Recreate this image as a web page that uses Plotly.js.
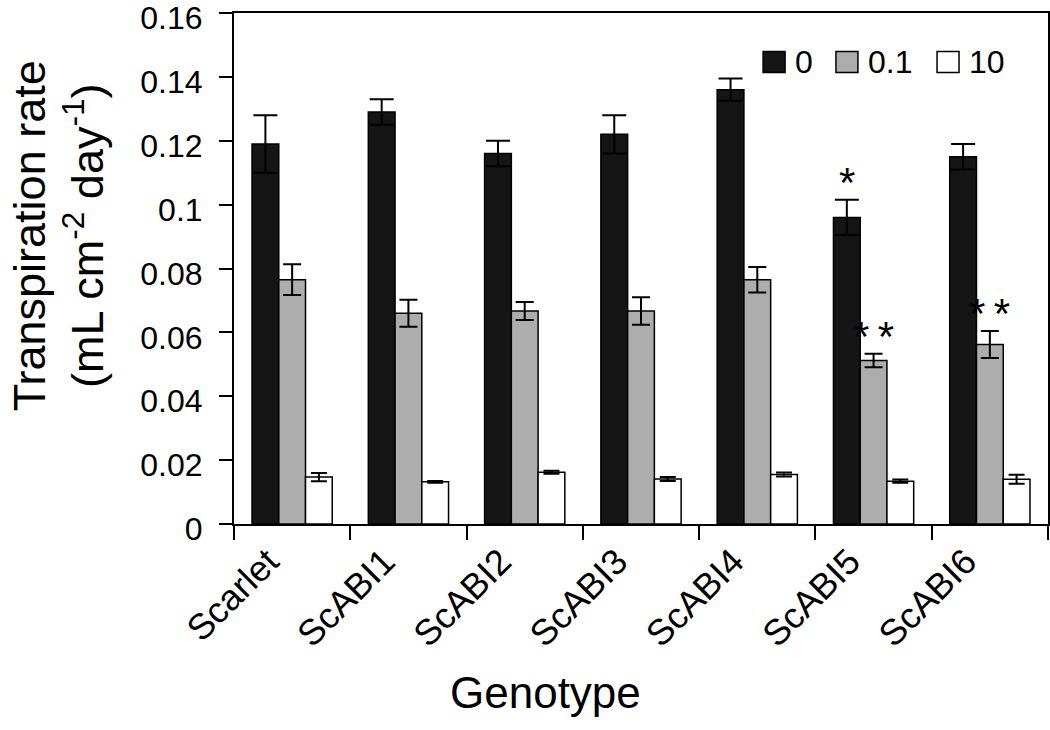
<!DOCTYPE html>
<html>
<head>
<meta charset="utf-8">
<script src="https://cdn.plot.ly/plotly-3.0.1.min.js"></script>
<style>html,body{margin:0;padding:0;background:#fff;}#chart{width:1050px;height:730px;}</style>
</head>
<body>
<div id="chart"></div>
<script>
// ---- data ----
const categories = ['Scarlet', 'ScABI1', 'ScABI2', 'ScABI3', 'ScABI4', 'ScABI5', 'ScABI6'];
const seriesNames = ['0', '0.1', '10'];
const rate0   = [0.119, 0.129, 0.116, 0.122, 0.136, 0.096, 0.115];
const err0    = [0.009, 0.004, 0.004, 0.006, 0.0035, 0.0055, 0.004];
const rate01  = [0.0765, 0.066, 0.0667, 0.0667, 0.0765, 0.0512, 0.0562];
const err01   = [0.0048, 0.0042, 0.0028, 0.0043, 0.004, 0.0021, 0.0042];
const rate10  = [0.0147, 0.0132, 0.0162, 0.0141, 0.0155, 0.0134, 0.014];
const err10   = [0.0013, 0.0003, 0.0005, 0.0006, 0.0006, 0.0005, 0.0014];
const sig0    = ['', '', '', '', '', '*', ''];
const sig01   = ['', '', '', '', '', '**', '**'];
const sig10   = ['', '', '', '', '', '', ''];
const yTicks  = [0, 0.02, 0.04, 0.06, 0.08, 0.1, 0.12, 0.14, 0.16];

// ---- styling ----
const FONT = 'Liberation Sans, Arial, Helvetica, sans-serif';
const colors = ['#151515', '#adadad', '#ffffff'];
const capW = [12, 9, 8];
const values = [rate0, rate01, rate10];
const errors = [err0, err01, err10];
const sigs = [sig0, sig01, sig10];
const bargap = 0.31;

const traces = values.map((v, i) => ({
  type: 'bar',
  name: seriesNames[i],
  x: categories,
  y: v,
  marker: {color: colors[i], line: {color: '#000', width: 1.5}},
  error_y: {type: 'data', array: errors[i], visible: true, color: '#000', thickness: 2, width: capW[i]},
  showlegend: false,
  hoverinfo: 'x+y'
}));

// significance annotations positioned on the bars through the axis scales
const groupW = 1 - bargap;
const barW = groupW / values.length;
const annotations = [];
sigs.forEach((s, i) => {
  s.forEach((t, j) => {
    if (!t) return;
    annotations.push({
      x: j - groupW / 2 + barW * (i + 0.5), xref: 'x',
      y: values[i][j] + errors[i][j], yref: 'y',
      text: t.split('').join('\u2009'), showarrow: false, yanchor: 'bottom',
      yshift: -8,
      font: {family: FONT, size: 42, color: '#000'}
    });
  });
});

// axis titles
annotations.push({
  xref: 'paper', yref: 'paper', x: -0.215, y: 0.565,
  text: 'Transpiration rate<br>(mL cm<sup>-2</sup> day<sup>-1</sup>)',
  textangle: -90, showarrow: false, xanchor: 'center', yanchor: 'middle',
  font: {family: FONT, size: 45, color: '#000'}
});
annotations.push({
  xref: 'paper', yref: 'paper', x: 0.383, y: -0.33,
  text: 'Genotype', showarrow: false, xanchor: 'center', yanchor: 'middle',
  font: {family: FONT, size: 44, color: '#000'}
});

// legend drawn manually (large swatches)
const shapes = [];
const legX = [0.65, 0.7395, 0.8637];
const legTextX = [0.687, 0.776, 0.9];
const sw = 0.027, sh = 0.041, legY = 0.904;
seriesNames.forEach((n, i) => {
  shapes.push({type: 'rect', xref: 'paper', yref: 'paper',
    x0: legX[i], x1: legX[i] + sw, y0: legY - sh / 2, y1: legY + sh / 2,
    fillcolor: colors[i], line: {color: '#000', width: 1.5}});
  annotations.push({xref: 'paper', yref: 'paper', x: legTextX[i], y: legY,
    text: n, showarrow: false, xanchor: 'left', yanchor: 'middle',
    font: {family: FONT, size: 32, color: '#000'}});
});

const layout = {
  width: 1050, height: 730,
  margin: {l: 234, r: 2, t: 13, b: 206, pad: 0},
  paper_bgcolor: '#fff', plot_bgcolor: '#fff',
  barmode: 'group', bargap: bargap, bargroupgap: 0,
  font: {family: FONT, color: '#000'},
  xaxis: {
    type: 'category', tickson: 'boundaries', ticks: 'outside', ticklen: 14, tickwidth: 2,
    tickcolor: '#000', showline: true, linecolor: '#000', linewidth: 2, mirror: true,
    showgrid: false, zeroline: false, tickangle: -45, ticklabelshift: -24,
    tickfont: {family: FONT, size: 36, color: '#000'}
  },
  yaxis: {
    range: [0, 0.16], tickmode: 'array', tickvals: yTicks,
    ticks: 'outside', ticklen: 13, tickwidth: 2, tickcolor: '#000',
    showline: true, linecolor: '#000', linewidth: 2, mirror: true,
    showgrid: false, zeroline: false, ticklabelstandoff: 10, ticklabeloverflow: 'allow',
    ticklabelshift: 5,
    tickfont: {family: FONT, size: 32, color: '#000'}
  },
  annotations: annotations,
  shapes: shapes
};

Plotly.newPlot('chart', traces, layout, {displayModeBar: false, staticPlot: true});
</script>
</body>
</html>
